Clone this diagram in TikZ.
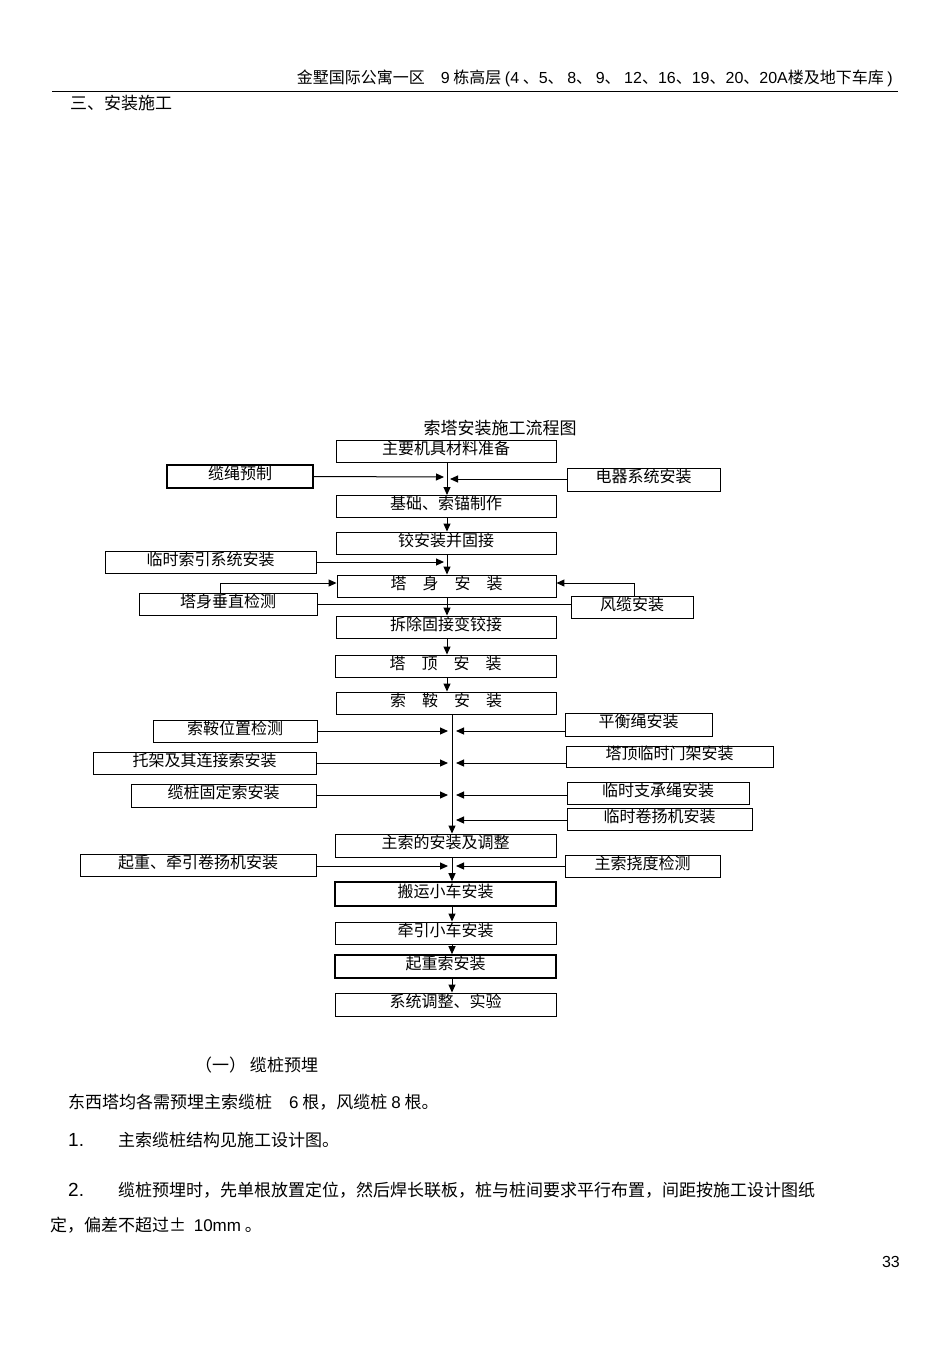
\documentclass[tikz,border=0pt]{standalone}
\usepackage{fontspec}
\setmainfont{Noto Sans CJK SC}
\newfontfamily\latinf{Liberation Sans}
\usetikzlibrary{arrows.meta}
\begin{document}
\begin{tikzpicture}[x=1pt,y=-1pt,
  bx/.style={draw,line width=0.9pt,inner sep=0},
  thk/.style={draw,line width=1.6pt},
  ar/.style={-{Triangle[length=8pt,width=7pt]},line width=1pt},
  ln/.style={line width=1pt},
  tx/.style={anchor=west,inner sep=0,font=\fontsize{17}{17}\selectfont}]
\useasboundingbox[fill=white] (0,0) rectangle (950,1345);
\newcommand\B[6]{\node[bx,#6,minimum width=#3-#2,minimum height=#5-#4] (#1) at ({(#2+#3)/2},{(#4+#5)/2}) {};}
\B{a}{336}{556}{440}{462}{}
\B{l1}{167}{313}{465}{488}{thk}
\B{r1}{567}{720}{468}{491}{}
\B{b}{336}{556}{495}{517}{}
\B{c}{336}{556}{532}{554}{}
\B{l2}{105}{316}{551}{573}{}
\B{d}{337}{556}{575}{597}{}
\B{l3}{139}{317}{593}{615}{}
\B{r3}{571}{693}{596}{618}{}
\B{e}{336}{556}{616}{638}{}
\B{f}{335}{556}{655}{677}{}
\B{g}{336}{556}{692}{714}{}
\B{l4}{153}{317}{720}{742}{}
\B{r4}{565}{712}{713}{736}{}
\B{l5}{93}{316}{752}{774}{}
\B{r5}{566}{773}{746}{767}{}
\B{l6}{131}{316}{784}{807}{}
\B{r6}{567}{749}{782}{804}{}
\B{r7}{567}{752}{808}{830}{}
\B{h}{335}{556}{834}{857}{}
\B{l8}{80}{316}{854}{876}{}
\B{r8}{565}{720}{855}{877}{}
\B{i}{335}{556}{882}{906}{thk}
\B{j}{335}{556}{922}{944}{}
\B{k}{335}{556}{955}{978}{thk}
\B{m}{335}{556}{993}{1016}{}
\foreach \n/\t in {a/主要机具材料准备,l1/缆绳预制,r1/电器系统安装,b/基础、索锚制作,c/铰安装并固接,l2/临时索引系统安装,d/塔\quad 身\quad 安\quad 装,l3/塔身垂直检测,r3/风缆安装,e/拆除固接变铰接,f/塔\quad 顶\quad 安\quad 装,g/索\quad 鞍\quad 安\quad 装,l4/索鞍位置检测,r4/平衡绳安装,l5/托架及其连接索安装,r5/塔顶临时门架安装,l6/缆桩固定索安装,r6/临时支承绳安装,r7/临时卷扬机安装,h/主索的安装及调整,l8/起重、牵引卷扬机安装,r8/主索挠度检测,i/搬运小车安装,j/牵引小车安装,k/起重索安装,m/系统调整、实验}
  \node[font=\fontsize{16}{16}\selectfont,yshift=3pt] at (\n) {\t};
% trunk top
\draw[ar] (447,462) -- (447,495);
\draw[ar] (l1.east) -- (444,477);
\draw[ar] (r1.west|-0,479) -- (450,479);
\draw[ar] (b.south-|447,0) -- (c.north-|447,0);
\draw[ar] (c.south-|447,0) -- (d.north-|447,0);
\draw[ar] (l2.east) -- (444,562);
\draw[ar] (d.south-|447,0) -- (e.north-|447,0);
\draw[ln] (l3.east|-0,604) -- (r3.west|-0,604);
\coordinate (p1) at (220,583);
\draw[ar] (l3.north-|p1) -- (p1) -- (d.west|-p1);
\coordinate (p2) at (634,583);
\draw[ar] (r3.north-|p2) -- (p2) -- (d.east|-p2);
\draw[ar] (e.south-|447,0) -- (f.north-|447,0);
\draw[ar] (f.south-|447,0) -- (g.north-|447,0);
% lower trunk
\draw[ar] (g.south-|452,0) -- (h.north-|452,0);
\foreach \l/\yy in {l4/731,l5/763,l6/795} \draw[ar] (\l.east|-0,\yy) -- (448,\yy);
\foreach \r/\yy in {r4/731,r5/763,r6/795,r7/820} \draw[ar] (\r.west|-0,\yy) -- (456,\yy);
\draw[ar] (h.south-|452,0) -- (i.north-|452,0);
\draw[ar] (l8.east|-0,866) -- (448,866);
\draw[ar] (r8.west|-0,866) -- (456,866);
\draw[ar] (i.south-|452,0) -- (j.north-|452,0);
\draw[ar] (j.south-|452,0) -- (k.north-|452,0);
\draw[ar] (k.south-|452,0) -- (m.north-|452,0);
% texts
\node[anchor=east,inner sep=0,font=\fontsize{16}{16}\selectfont] (hd) at (893,78) {金墅国际公寓一区\quad {\latinf 9} 栋高层 {\latinf (4} 、{\latinf 5}、 {\latinf 8}、 {\latinf 9}、 {\latinf 12}、{\latinf 16}、{\latinf 19}、{\latinf 20}、{\latinf 20A}楼及地下车库 {\latinf )}};
\draw[ln] (52,91) -- (898,91);
\node[tx] (t0) at (70,103) {三、安装施工};
\node[inner sep=0,font=\fontsize{17}{17}\selectfont] (tt) at (500,428) {索塔安装施工流程图};
\node[tx] (s1) at (195,1065) {（一） 缆桩预埋};
\node[tx] (s2) at (68,1102) {东西塔均各需预埋主索缆桩\quad {\latinf 6} 根，风缆桩\ {\latinf 8} 根。};
\node[tx] (s3) at (68,1140) {{\latinf\fontsize{19}{19}\selectfont 1.}\qquad 主索缆桩结构见施工设计图。};
\node[tx] (s4) at (68,1190) {{\latinf\fontsize{19}{19}\selectfont 2.}\qquad 缆桩预埋时，先单根放置定位，然后焊长联板，桩与桩间要求平行布置，间距按施工设计图纸};
\node[tx] (s5) at (50,1225) {定，偏差不超过±\ \ {\latinf 10mm} 。};
\node[anchor=east,inner sep=0,font=\latinf\fontsize{16}{16}\selectfont] (pg) at (900,1262) {33};
\end{tikzpicture}
\end{document}
